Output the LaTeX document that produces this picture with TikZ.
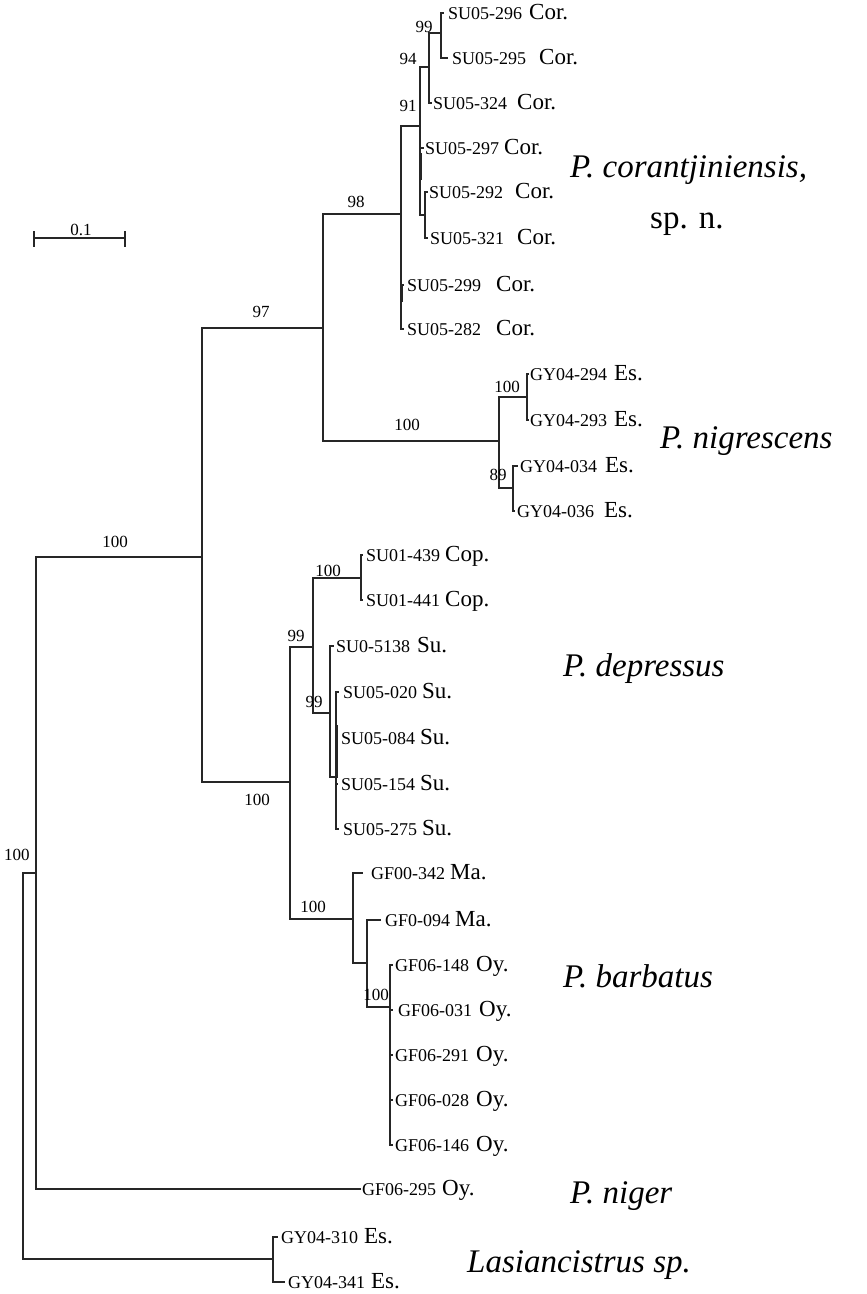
\documentclass[tikz,border=0pt]{standalone}
\usepackage{fontspec}
\setmainfont{Liberation Serif}
\newcommand\lfidfont{\fontsize{18}{20}\selectfont}
\newcommand\lflocfont{\fontsize{23}{25}\selectfont}
\newcommand\leafnode[7]{%
  \coordinate (#1) at (#2,#3);
  \node[leaf] (#1t) at (#4,#3+6) {{\lfidfont #6}\hspace{#5pt}{\lflocfont #7}};}
\begin{document}
\begin{tikzpicture}[x=1pt,y=-1pt,
  br/.style={line width=1.1pt, black!85, line cap=rect},
  stub/.style={line width=2pt, black!85},
  leaf/.style={anchor=base west, inner sep=0pt},
  bs/.style={inner sep=0pt, font=\fontsize{17}{19}\selectfont},
  sp/.style={anchor=base west, inner sep=0pt, font=\fontsize{33}{36}\selectfont\itshape},
  spu/.style={anchor=base west, inner sep=0pt, font=\fontsize{33}{36}\selectfont}]
\useasboundingbox[fill=white] (0,0) rectangle (867,1294);

% ---------- leaves ----------
\leafnode{l296}{443}{13}{448}{7}{SU05-296}{Cor.}
\leafnode{l295}{447}{58}{452}{13}{SU05-295}{Cor.}
\leafnode{l324}{431}{103}{433}{10}{SU05-324}{Cor.}
\leafnode{l297}{423}{148}{425}{5}{SU05-297}{Cor.}
\leafnode{l292}{427}{192}{429}{12}{SU05-292}{Cor.}
\leafnode{l321}{427}{238}{430}{13}{SU05-321}{Cor.}
\leafnode{l299}{403}{285}{407}{15}{SU05-299}{Cor.}
\leafnode{l282}{403}{329}{407}{15}{SU05-282}{Cor.}
\leafnode{l294}{528}{374}{530}{7}{GY04-294}{Es.}
\leafnode{l293}{528}{420}{530}{7}{GY04-293}{Es.}
\leafnode{l034}{517}{466}{520}{8}{GY04-034}{Es.}
\leafnode{l036}{514}{511}{517}{10}{GY04-036}{Es.}
\leafnode{l439}{362}{555}{366}{5}{SU01-439}{Cop.}
\leafnode{l441}{362}{600}{366}{5}{SU01-441}{Cop.}
\leafnode{l5138}{333}{646}{336}{7}{SU0-5138}{Su.}
\leafnode{l020}{338}{692}{343}{5}{SU05-020}{Su.}
\leafnode{l084}{337}{738}{341}{5}{SU05-084}{Su.}
\leafnode{l154}{337}{784}{341}{5}{SU05-154}{Su.}
\leafnode{l275}{338}{829}{343}{5}{SU05-275}{Su.}
\leafnode{l342}{362}{873}{371}{5}{GF00-342}{Ma.}
\leafnode{l094}{380}{920}{385}{5}{GF0-094}{Ma.}
\leafnode{l148}{392}{965}{395}{7}{GF06-148}{Oy.}
\leafnode{l031}{392}{1010}{398}{7}{GF06-031}{Oy.}
\leafnode{l291}{392}{1055}{395}{7}{GF06-291}{Oy.}
\leafnode{l028}{392}{1100}{395}{7}{GF06-028}{Oy.}
\leafnode{l146}{392}{1145}{395}{7}{GF06-146}{Oy.}
\leafnode{l295n}{360}{1189}{362}{6}{GF06-295}{Oy.}
\leafnode{l310}{277}{1237}{281}{6}{GY04-310}{Es.}
\leafnode{l341}{284}{1282}{288}{6}{GY04-341}{Es.}

% ---------- internal nodes ----------
\coordinate (n99) at (441,33);
\coordinate (n94) at (429,67);
\coordinate (nC) at (420,126);
\coordinate (nD) at (425,215);
\coordinate (nA) at (401,214);
\coordinate (n97) at (323,328);
\coordinate (nN) at (499,441);
\coordinate (nN1) at (527,397);
\coordinate (nN2) at (513,488);
\coordinate (crown) at (202,557);
\coordinate (nDB) at (290,782);
\coordinate (nDep) at (313,647);
\coordinate (nCop) at (361,578);
\coordinate (nSu) at (330,713);
\coordinate (nSu2) at (336,777);
\coordinate (nBar) at (353,919);
\coordinate (nBar2) at (367,963);
\coordinate (nOy) at (390,1007);
\coordinate (root) at (36,873);
\coordinate (oroot) at (23,1066);
\coordinate (nLas) at (273,1259);

% ---------- branches ----------
\draw[br] (n99) |- (l296) (n99) |- (l295);
\draw[br] (n94) |- (n99) (n94) |- (l324);
\draw[br] (nC) |- (n94) (nC) |- (l297) (nC) |- (nD);
\draw[br] (nD) |- (l292) (nD) |- (l321);
\draw[br] (nA) |- (nC) (nA) |- (l299) (nA) |- (l282);
\draw[br] (n97) |- (nA) (n97) |- (nN);
\draw[br] (nN) |- (nN1) (nN) |- (nN2);
\draw[br] (nN1) |- (l294) (nN1) |- (l293);
\draw[br] (nN2) |- (l034) (nN2) |- (l036);
\draw[br] (crown) |- (n97) (crown) |- (nDB);
\draw[br] (nDB) |- (nDep) (nDB) |- (nBar);
\draw[br] (nDep) |- (nCop) (nDep) |- (nSu);
\draw[br] (nCop) |- (l439) (nCop) |- (l441);
\draw[br] (nSu) |- (l5138) (nSu) |- (nSu2);
\draw[br] (nSu2) |- (l020) (nSu2) |- (l084) (nSu2) |- (l154) (nSu2) |- (l275);
\draw[br] (nBar) |- (l342) (nBar) |- (nBar2);
\draw[br] (nBar2) |- (l094) (nBar2) |- (nOy);
\draw[br] (nOy) |- (l148) (nOy) |- (l031) (nOy) |- (l291) (nOy) |- (l028) (nOy) |- (l146);
\draw[br] (root) |- (crown) (root) |- (l295n);
\draw[br] (oroot) |- (root) (oroot) |- (nLas);
\draw[br] (nLas) |- (l310) (nLas) |- (l341);

% tiny internal branches (thick stubs)
\coordinate (s1a) at (402,284); \coordinate (s1b) at (402,302);
\coordinate (s2a) at (337,725); \coordinate (s2b) at (337,778);
\coordinate (s3a) at (421,153); \coordinate (s3b) at (421,180);
\draw[stub] (s1a) -- (s1b);
\draw[stub] (s2a) -- (s2b);
\draw[stub] (s3a) -- (s3b);

% ---------- bootstrap values ----------
\node[bs] (b99a) at (424,27) {99};
\node[bs] (b94) at (408,59) {94};
\node[bs] (b91) at (408,106) {91};
\node[bs] (b98) at (356,202) {98};
\node[bs] (b97) at (261,312) {97};
\node[bs] (b100n) at (407,425) {100};
\node[bs] (b100n1) at (507,387) {100};
\node[bs] (b89) at (498,475) {89};
\node[bs] (b100c) at (115,542) {100};
\node[bs] (b100db) at (257,800) {100};
\node[bs] (b100cop) at (328,571) {100};
\node[bs] (b99b) at (296,636) {99};
\node[bs] (b99c) at (314,702) {99};
\node[bs] (b100bar) at (313,907) {100};
\node[bs] (b100oy) at (376,995) {100};
\node[bs] (b100r) at (17,855) {100};

% ---------- scale bar ----------
\coordinate (sbL) at (34,238); \coordinate (sbR) at (125,238);
\coordinate (sbLt) at (34,232); \coordinate (sbLb) at (34,246);
\coordinate (sbRt) at (125,232); \coordinate (sbRb) at (125,246);
\draw[br] (sbL) -- (sbR);
\draw[br] (sbLt) -- (sbLb);
\draw[br] (sbRt) -- (sbRb);
\node[bs] (sbl) at (81,230) {0.1};

% ---------- species labels ----------
\node[sp] (spcor) at (570,177) {P. corantjiniensis,};
\node[spu] (spn) at (650,228) {sp. n.};
\node[sp] (spnig) at (660,448) {P. nigrescens};
\node[sp] (spdep) at (563,676) {P. depressus};
\node[sp] (spbar) at (563,987) {P. barbatus};
\node[sp] (spniger) at (570,1203) {P. niger};
\node[sp] (splas) at (467,1272) {Lasiancistrus sp.};
\end{tikzpicture}
\end{document}
